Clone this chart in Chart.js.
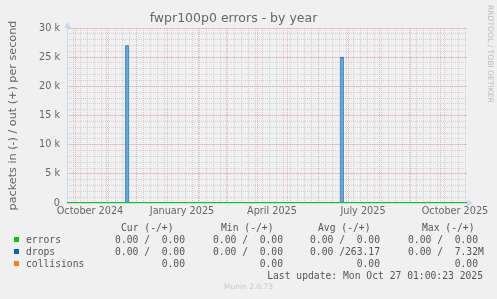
<!DOCTYPE html>
<html>
<head>
<meta charset="utf-8">
<script src="https://cdn.jsdelivr.net/npm/chart.js@4"></script>
<style>
  body { margin: 0; background: #f0f0f0; }
  #wrap { position: relative; width: 497px; height: 299px; overflow: hidden; }
  #graph { position: absolute; left: 0; top: 0; }
  .t { position: absolute; white-space: pre; font-family: "DejaVu Sans Mono", monospace; font-size: 9.7px; color: #555; line-height: 12px; }
  .sq { position: absolute; width: 5px; height: 5px; }
  #munin { position: absolute; left: 0; width: 497px; top: 282px; text-align: center; font-family: "DejaVu Sans", sans-serif; font-size: 7.5px; color: #c8c8c8; }
  #rrd { position: absolute; left: 486px; top: 5px; writing-mode: vertical-rl; font-family: "DejaVu Sans", sans-serif; font-size: 7.6px; color: #bbb; }
</style>
</head>
<body>
<div id="wrap">
  <canvas id="graph" width="497" height="299"></canvas>
  <div id="rrd">RRDTOOL / TOBI OETIKER</div>
  <div id="munin">Munin 2.0.73</div>
</div>
<script>
// time range of the year graph (400 days)
var rangeStart = "2024-09-23";
var rangeEnd = "2025-10-28";

// drops (out) spikes
var spikeDates = ["2024-11-22", "2025-06-25"];
var dropsOut = [27000, 25000];

// errors stay at zero over the whole range
var errorDates = [rangeStart, rangeEnd];
var errorsOut = [0, 0];

// x labels every 3 months
var labelMonths = ["2024-10", "2025-01", "2025-04", "2025-07", "2025-10"];
var labelNames = ["October 2024", "January 2025", "April 2025", "July 2025", "October 2025"];

// legend
var legendNames = ["errors", "drops", "collisions"];
var legendColors = ["#00cc00", "#0066b3", "#ff8000"];
var curVals = ["0.00 /  0.00", "0.00 /  0.00", "        0.00"];
var minVals = ["0.00 /  0.00", "0.00 /  0.00", "        0.00"];
var avgVals = ["0.00 /  0.00", "0.00 /263.17", "        0.00"];
var maxVals = ["0.00 /  0.00", "0.00 /  7.32M", "        0.00"];
var lastUpdate = "Last update: Mon Oct 27 01:00:23 2025";

function day(s) {
  return Date.parse(s + "T00:00:00Z") / 86400000;
}

var xMin = day(rangeStart), xMax = day(rangeEnd);

// month starts and weeks (sundays) inside the range, for the grid
var monthTicks = [];
var d = new Date(Date.UTC(2024, 8, 1));
while (d.getTime() / 86400000 <= xMax) {
  var v = d.getTime() / 86400000;
  if (v >= xMin) monthTicks.push({value: v});
  d.setUTCMonth(d.getUTCMonth() + 1);
}
var weekTicks = [];
for (var w = xMin; w <= xMax; w++) {
  if (new Date(w * 86400000).getUTCDay() == 0) weekTicks.push({value: w});
}
var labelTicks = labelMonths.map(function (m) { return {value: day(m + "-01") + 15}; });

var font = {family: "DejaVu Sans", size: 9.7};
var minorGrid = "rgba(190,190,190,0.6)";
var majorGrid = "rgba(240,120,120,0.48)";

var arrows = {
  id: "arrows",
  afterDraw: function (chart) {
    var ctx = chart.ctx, a = chart.chartArea;
    ctx.save();
    ctx.fillStyle = "#CFD6F8";
    ctx.beginPath();
    ctx.moveTo(a.left - 3, a.top);
    ctx.lineTo(a.left + 4, a.top);
    ctx.lineTo(a.left + 0.5, a.top - 6);
    ctx.closePath();
    ctx.fill();
    ctx.beginPath();
    ctx.moveTo(a.right, a.bottom + 3.5);
    ctx.lineTo(a.right, a.bottom - 3.5);
    ctx.lineTo(a.right + 6, a.bottom);
    ctx.closePath();
    ctx.fill();
    ctx.restore();
  }
};

function timeAxis(ticks, extra) {
  var o = {
    type: "linear",
    position: "bottom",
    min: xMin,
    max: xMax,
    offset: false,
    afterBuildTicks: function (s) { s.ticks = ticks.slice(); },
    ticks: {display: false},
    grid: {offset: false, drawTicks: false},
    border: {display: false, dash: [1, 1]},
    afterFit: function (s) { s.height = 0; }
  };
  for (var k in extra) o[k] = extra[k];
  return o;
}

var ctx = document.getElementById("graph").getContext("2d");

var chart = new Chart(ctx, {
  type: "bar",
  data: {
    datasets: [
      {
        type: "line",
        label: "errors",
        data: errorDates.map(function (s, i) { return {x: day(s), y: errorsOut[i]}; }),
        borderColor: "#00cc00",
        borderWidth: 1.8,
        pointRadius: 0,
        order: 0
      },
      {
        type: "bar",
        label: "drops",
        data: spikeDates.map(function (s, i) { return {x: day(s), y: dropsOut[i]}; }),
        backgroundColor: "#7aafdc",
        borderColor: "#0066b3",
        borderWidth: {left: 1, right: 1, top: 1, bottom: 0},
        borderSkipped: false,
        barThickness: 3,
        order: 1
      }
    ]
  },
  options: {
    responsive: false,
    animation: false,
    events: [],
    layout: {padding: {left: 0, right: 30, top: 0, bottom: 76}},
    plugins: {
      legend: {display: false},
      tooltip: {enabled: false},
      title: {
        display: true,
        text: "fwpr100p0 errors - by year",
        color: "#666",
        font: {family: "DejaVu Sans", size: 12.5, weight: "normal"},
        padding: {top: 11, bottom: 2}
      }
    },
    scales: {
      x: timeAxis(monthTicks, {
        grid: {offset: false, color: majorGrid, drawTicks: false}
      }),
      xw: timeAxis(weekTicks, {
        z: -1,
        grid: {offset: false, color: minorGrid, drawTicks: false}
      }),
      xl: timeAxis(labelTicks, {
        ticks: {
          autoSkip: false,
          maxRotation: 0,
          padding: 3,
          color: "#666",
          font: font,
          callback: function (v, i) { return labelNames[i]; }
        },
        grid: {display: false, offset: false, drawTicks: false},
        border: {display: true, color: "#CFD6F8"},
        afterFit: function (s) { s.height = 20; }
      }),
      y: {
        min: 0,
        max: 30000,
        ticks: {
          stepSize: 5000,
          padding: 7,
          color: "#666",
          font: font,
          callback: function (v) { return v == 0 ? "0" : (v / 1000) + " k"; }
        },
        grid: {color: majorGrid, drawTicks: false},
        border: {display: true, color: "#CFD6F8", dash: [1, 1]},
        title: {
          display: true,
          text: "packets in (-) / out (+) per second",
          color: "#666",
          font: {family: "DejaVu Sans", size: 11.2},
          padding: {top: 6, bottom: 0}
        },
        afterFit: function (s) { s.width = 67; }
      },
      y2: {
        position: "left",
        min: 0,
        max: 30000,
        z: -1,
        ticks: {stepSize: 1000, display: false},
        grid: {color: minorGrid, drawTicks: false},
        border: {display: false, dash: [1, 1]},
        afterFit: function (s) { s.width = 0; }
      }
    }
  },
  plugins: [arrows]
});

// legend below the graph
var wrap = document.getElementById("wrap");
function put(text, x, y) {
  var e = document.createElement("div");
  e.className = "t";
  e.textContent = text;
  e.style.left = x + "px";
  e.style.top = (y - 6) + "px";
  wrap.appendChild(e);
  return e;
}
var colX = [115, 213, 310, 408];
put("Cur (-/+)", 121, 228);
put("Min (-/+)", 221, 228);
put("Avg (-/+)", 318, 228);
put("Max (-/+)", 422, 228);
var cols = [curVals, minVals, avgVals, maxVals];
legendNames.forEach(function (n, i) {
  var y = 240 + i * 12;
  var sq = document.createElement("div");
  sq.className = "sq";
  sq.style.left = "14px";
  sq.style.top = (y - 3) + "px";
  sq.style.background = legendColors[i];
  wrap.appendChild(sq);
  put(n, 26, y);
  cols.forEach(function (c, j) { put(c[i], colX[j], y); });
});
var lu = put(lastUpdate, 0, 276);
lu.style.left = "auto";
lu.style.right = (497 - 483) + "px";
</script>
</body>
</html>
